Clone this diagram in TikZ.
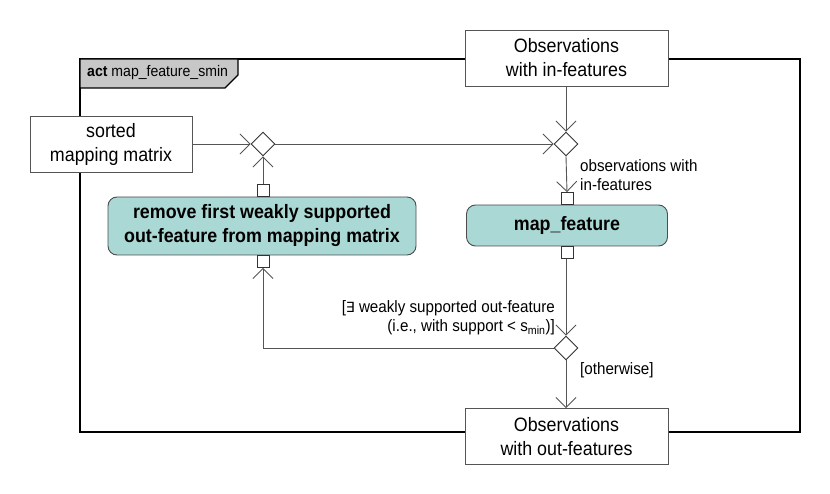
\documentclass[tikz,border=0pt]{standalone}
\usepackage{fontspec}
\setmainfont{Liberation Sans}[FakeStretch=0.92]
\newfontfamily\symfont{DejaVu Sans}
\usetikzlibrary{shapes.geometric,arrows.meta}
\definecolor{edgegray}{RGB}{85,85,85}
\definecolor{teal}{RGB}{170,217,213}
\begin{document}
\begin{tikzpicture}[x=1pt,y=-1pt,
  objbox/.style={draw=edgegray,line width=0.9pt,fill=white,minimum width=203pt,minimum height=56pt,align=center,font=\fontsize{19.4}{24}\selectfont,inner sep=0pt},
  actbox/.style={draw=black!70,line width=0.9pt,fill=teal,rounded corners=9pt,align=center,font=\fontsize{19.4}{24}\selectfont\bfseries,inner sep=0pt},
  dec/.style={draw=black!80,line width=0.9pt,fill=white,diamond,minimum size=24pt,inner sep=0pt},
  pin/.style={draw=black!80,line width=0.9pt,fill=white,rectangle,minimum size=12pt,inner sep=0pt},
  flow/.style={draw=edgegray,line width=0.9pt,-{Straight Barb[length=10pt,width=20pt,line width=0.9pt]}},
  lab/.style={font=\fontsize{16.5}{19.5}\selectfont,inner sep=0pt}
]
\useasboundingbox (0,0) rectangle (830,494);
% frame
\draw[line width=1.6pt,black] (80,59) rectangle (800,432);
\draw[line width=1.2pt,black,fill=black!22] (80,59) -- (238,59) -- (238,75) -- (225,88) -- (80,88) -- cycle;
\node[anchor=west,inner sep=0pt,font=\fontsize{15.3}{18}\selectfont] (tab) at (87,73) {\textbf{act} map\_feature\_smin};
% object nodes
\node[objbox] (inobs) at (566.5,58) {Observations\\with in-features};
\node[objbox] (outobs) at (566.5,436.5) {Observations\\with out-features};
\node[objbox,minimum width=162pt] (sorted) at (111,144) {sorted\\mapping matrix};
% decisions
\node[dec] (d1) at (263,144) {};
\node[dec] (d2) at (566,144) {};
\node[dec] (d3) at (566,348) {};
% actions
\node[actbox,minimum width=308pt,minimum height=58pt] (remove) at (262,226) {remove first weakly supported\\out-feature from mapping matrix};
\node[actbox,minimum width=201pt,minimum height=41pt] (mapf) at (567,225.5) {map\_feature};
% pins
\node[pin,anchor=south] (rin) at (263,197) {};
\node[pin,anchor=north] (rout) at (263,255) {};
\node[pin,anchor=south] (min) at (567,205) {};
\node[pin,anchor=north] (mout) at (567,246) {};
% flows
\draw[flow] (sorted.east) -- (d1.west);
\draw[flow] (rin.north) -- (d1.south);
\draw[flow] (d1.east) -- (d2.west);
\draw[flow] (inobs.south -| d2) -- (d2.north);
\draw[flow] (d2.south) -- (min.north);
\draw[flow] (mout.south -| d3) -- (d3.north);
\draw[flow] (d3.west) -| (rout.south);
\draw[flow] (d3.south) -- (outobs.north -| d3);
% labels
\node[lab,anchor=north west,align=left] (l1) at (580,159) {observations with\\in-features};
\node[lab,anchor=north east,align=right] (l2) at (555,300) {[{\symfont\fontsize{14}{19}\selectfont ∃} weakly supported out-feature\\(i.e., with support < s\textsubscript{min})]};
\node[lab,anchor=north west] (l3) at (580,362) {[otherwise]};
\end{tikzpicture}
\end{document}
